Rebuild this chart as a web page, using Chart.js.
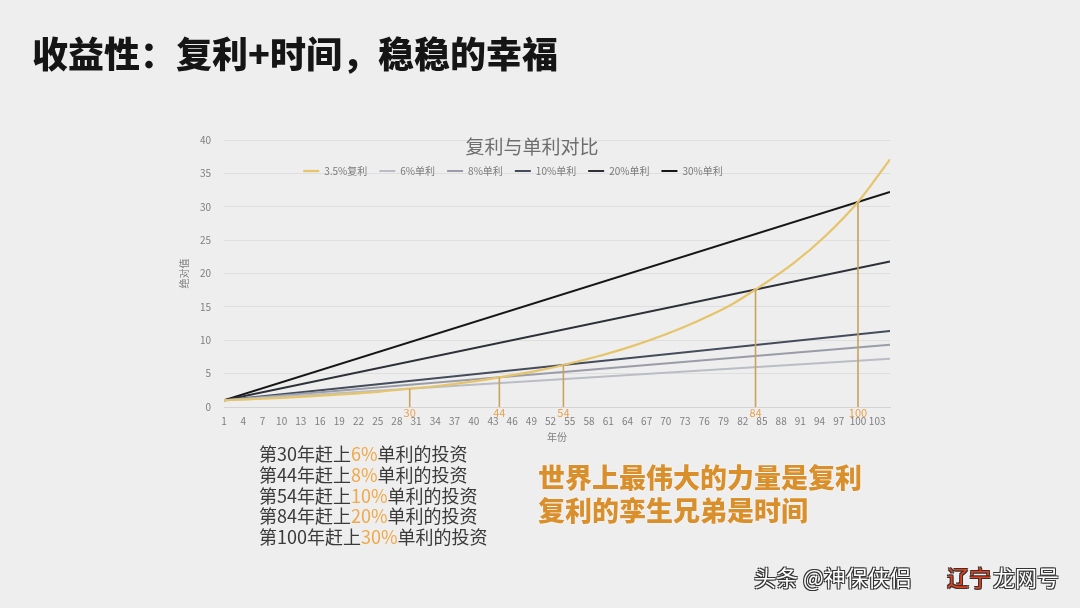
<!DOCTYPE html>
<html>
<head>
<meta charset="utf-8">
<script src="https://cdn.jsdelivr.net/npm/chart.js@4/dist/chart.umd.min.js"></script>
<style>
  html, body { margin:0; padding:0; width:1080px; height:608px; overflow:hidden; background:#eeeeee; }
  body { position:relative; font-family:"Noto Sans CJK SC","Noto Sans",sans-serif; }
  #c { position:absolute; left:0; top:0; }
  .title { position:absolute; left:32px; top:26px; font-size:36px; font-weight:900; color:#151515; white-space:nowrap; }
  .notes { position:absolute; left:259px; top:443px; font-size:18px; line-height:20.8px; color:#3a3a3a; white-space:nowrap; }
  .notes .o { color:#f0a848; }
  .quote { position:absolute; left:538px; top:460px; font-size:27px; line-height:33px; font-weight:900; color:#d98f2c; white-space:nowrap; text-shadow:0 0 2px #fff, 0 0 1px #fff; }
  .wm { position:absolute; top:560px; font-size:22px; color:#fff; white-space:nowrap; text-shadow:1px 1px 0 #333, -1px -1px 0 #333, 1px -1px 0 #333, -1px 1px 0 #333; }
</style>
</head>
<body>
<canvas id="c" width="1080" height="608"></canvas>
<div class="title">收益性：复利+时间，稳稳的幸福</div>
<div class="notes">
  <div>第30年赶上<span class="o">6%</span>单利的投资</div>
  <div>第44年赶上<span class="o">8%</span>单利的投资</div>
  <div>第54年赶上<span class="o">10%</span>单利的投资</div>
  <div>第84年赶上<span class="o">20%</span>单利的投资</div>
  <div>第100年赶上<span class="o">30%</span>单利的投资</div>
</div>
<div class="quote">世界上最伟大的力量是复利<br>复利的孪生兄弟是时间</div>
<div class="wm" style="left:754px;">头条 @神保侠侣</div>
<div class="wm" style="left:947px; color:#e8401c;">辽宁</div>
<div class="wm" style="left:993px;">龙网号</div>
<script>
// ---- data ----
const chartTitle = "复利与单利对比";
const seriesNames = ["3.5%复利", "6%单利", "8%单利", "10%单利", "20%单利", "30%单利"];
const compYears  = [1, 5, 10, 15, 20, 25, 30, 35, 40, 44, 50, 54, 60, 65, 70, 75, 80, 84, 90, 95, 100, 105];
const compValues = [1.00, 1.15, 1.36, 1.62, 1.92, 2.28, 2.74, 3.22, 3.83, 4.44, 5.45, 6.30, 7.75, 9.20, 10.9, 12.9, 15.2, 17.6, 21.6, 25.7, 30.7, 37.1];
const simpleYears = [1, 105];
const simple6  = [1, 7.24];
const simple8  = [1, 9.32];
const simple10 = [1, 11.4];
const simple20 = [1, 21.8];
const simple30 = [1, 32.2];
const markerYears  = [30, 44, 54, 84, 100];
const markerValues = [2.74, 4.44, 6.3, 17.6, 30.7];
const xTickLabels = [1,4,7,10,13,16,19,22,25,28,31,34,37,40,43,46,49,52,55,58,61,64,67,70,73,76,79,82,85,88,91,94,97,100,103];
const yTicks = [0,5,10,15,20,25,30,35,40];

const colors = ["#e6c46a", "#babdc5", "#9a9ca8", "#444c5c", "#2e3038", "#161616"];
const markerColor = "#c9a25c";
const markerLabelColor = "#e9a24c";
const FONT = '"Noto Sans CJK SC","Noto Sans",sans-serif';

function pts(xs, ys) { return xs.map((x, i) => ({x: x, y: ys[i]})); }

const simpleSets = [simple6, simple8, simple10, simple20, simple30];
const datasets = [];
datasets.push({
  label: seriesNames[0], data: pts(compYears, compValues),
  borderColor: colors[0], backgroundColor: colors[0], borderWidth: 2.2,
  pointRadius: 0, cubicInterpolationMode: 'monotone', order: 1
});
simpleSets.forEach((s, i) => {
  datasets.push({
    label: seriesNames[i + 1], data: pts(simpleYears, s),
    borderColor: colors[i + 1], backgroundColor: colors[i + 1], borderWidth: 2,
    pointRadius: 0, tension: 0, order: 2
  });
});
markerYears.forEach((yr, i) => {
  datasets.push({
    label: 'm' + yr, data: [{x: yr, y: 0}, {x: yr, y: markerValues[i]}],
    borderColor: markerColor, borderWidth: 1.6, pointRadius: 0, order: 0
  });
});

const markerLabels = {
  id: 'markerLabels',
  afterDatasetsDraw(chart) {
    const {ctx, scales: {x, y}} = chart;
    ctx.save();
    ctx.font = '11px ' + FONT;
    ctx.fillStyle = markerLabelColor;
    ctx.textAlign = 'center';
    ctx.textBaseline = 'middle';
    markerYears.forEach(v => {
      ctx.fillText(String(v), x.getPixelForValue(v), y.getPixelForValue(0) + 6);
    });
    ctx.restore();
  }
};

// Title and legend float over the plot area (as in the source image)
function zeroHeight(box) {
  if (!box || box._zh || typeof box.update !== 'function') return;
  const orig = box.update;
  box.update = function () {
    const r = orig.apply(this, arguments);
    this.height = 0;
    return r;
  };
  box._zh = true;
}
function placeBox(box, cx, top) {
  if (!box) return;
  const w = (box.right - box.left) || box.width || 0;
  box.left = cx - w / 2; box.right = box.left + w;
  box.top = top; box.bottom = top + 40;
}
const overlayBoxes = {
  id: 'overlayBoxes',
  beforeLayout(chart) { zeroHeight(chart.legend); zeroHeight(chart.titleBlock); },
  afterLayout(chart) {
    placeBox(chart.titleBlock, 532, 135);
    placeBox(chart.legend, 513, 154);
  }
};

new Chart(document.getElementById('c'), {
  type: 'line',
  data: { datasets: datasets },
  options: {
    responsive: false,
    animation: false,
    layout: { padding: { left: 174, right: 190, top: 140, bottom: 161 } },
    plugins: {
      tooltip: { enabled: false },
      title: {
        display: true, text: chartTitle, color: '#6e6e6e',
        font: { family: FONT, size: 19, weight: 'normal' },
        padding: { top: 0, bottom: 0 }
      },
      legend: {
        position: 'top',
        align: 'center',
        labels: {
          color: '#7a7a7a',
          font: { family: FONT, size: 10 },
          usePointStyle: true, pointStyle: 'line', pointStyleWidth: 16,
          boxHeight: 10, padding: 12,
          filter: (item) => item.datasetIndex < 6
        }
      }
    },
    scales: {
      x: {
        type: 'linear', min: 1, max: 105,
        afterBuildTicks: (s) => { s.ticks = xTickLabels.map(v => ({value: v})); },
        afterFit: (s) => { s.height = 40; },
        grid: { display: false, drawTicks: false },
        border: { display: true, color: '#d4d4d4', width: 1 },
        ticks: { autoSkip: false, maxRotation: 0, padding: 8, color: '#7f7f7f', font: { family: FONT, size: 10 } },
        title: { display: true, text: '年份', color: '#7f7f7f', font: { family: FONT, size: 10 }, padding: { top: 0, bottom: 4 } }
      },
      y: {
        type: 'linear', min: 0, max: 40,
        afterBuildTicks: (s) => { s.ticks = yTicks.map(v => ({value: v})); },
        afterFit: (s) => { s.width = 50; },
        grid: { color: '#dedede', lineWidth: 1, drawTicks: false },
        border: { display: false },
        ticks: { padding: 13, color: '#7f7f7f', font: { family: FONT, size: 10 } },
        title: { display: true, text: '绝对值', color: '#7f7f7f', font: { family: FONT, size: 10 }, padding: { top: 4, bottom: 0 } }
      }
    }
  },
  plugins: [markerLabels, overlayBoxes]
});
</script>
</body>
</html>
